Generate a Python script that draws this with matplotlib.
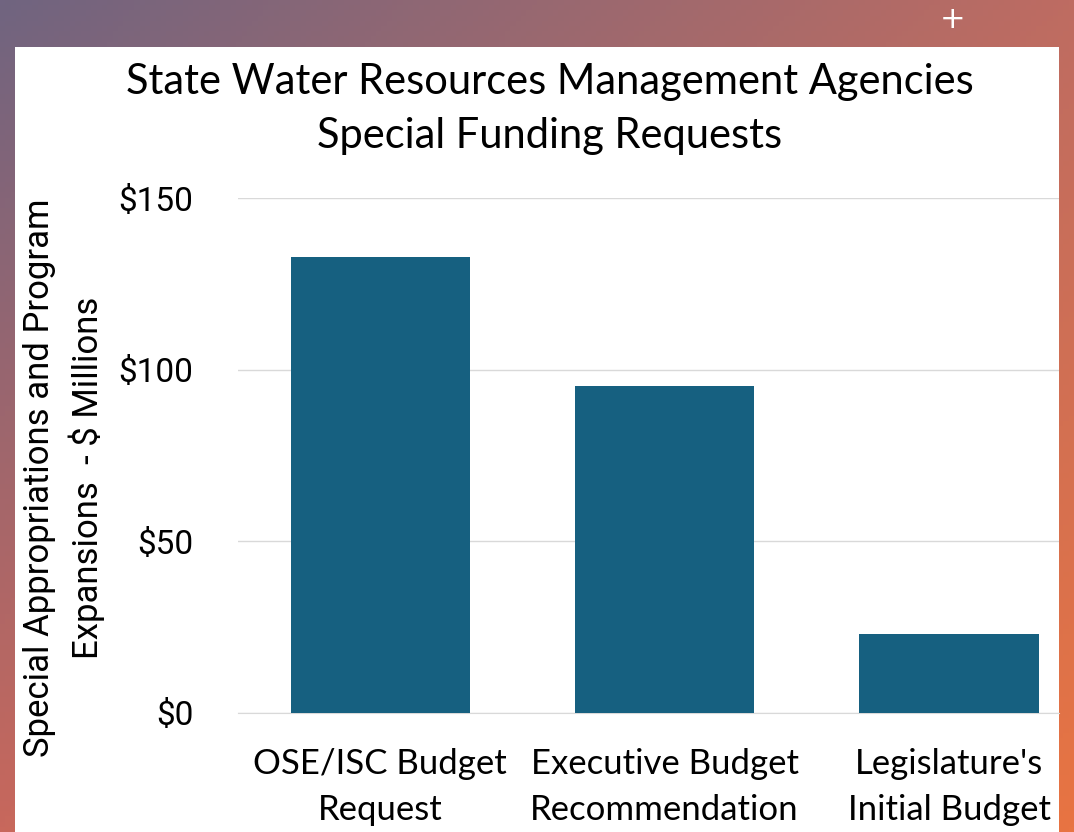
import numpy as np
import matplotlib
import matplotlib.pyplot as plt
from matplotlib.patches import Rectangle

matplotlib.use("Agg")

# data
categories = ["OSE/ISC Budget\nRequest", "Executive Budget\nRecommendation", "Legislature's\nInitial Budget"]
amounts = [132.8, 95.2, 23.0]
yticks = [0, 50, 100, 150]
ytick_labels = ["$0", "$50", "$100", "$150"]

W, H = 1074, 832
fig = plt.figure(figsize=(W / 100, H / 100), dpi=100)

# gradient backdrop (purple-grey top left -> orange bottom right)
bg = fig.add_axes([0, 0, 1, 1])
bg.set_axis_off()
tl = np.array([112, 100, 128]) / 255
tr = np.array([190, 108, 98]) / 255
bl = np.array([200, 104, 92]) / 255
br = np.array([232, 116, 66]) / 255
u = np.linspace(0, 1, 200)[None, :, None]
v = np.linspace(0, 1, 160)[:, None, None]
grad = (1 - v) * ((1 - u) * tl + u * tr) + v * ((1 - u) * bl + u * br)
bg.imshow(grad, extent=[0, 1, 0, 1], aspect="auto", origin="upper")
bg.set_xlim(0, 1)
bg.set_ylim(0, 1)
bg.add_patch(Rectangle((15 / W, 0), (1059 - 15) / W, (H - 47) / H,
                       facecolor="white", edgecolor="none"))
bg.text(953 / W, 1 - 20 / H, "+", color="white", fontsize=22,
        ha="center", va="center", family="DejaVu Sans")

# main chart
x = np.arange(len(categories))
ax = fig.add_axes([238 / W, 1 - 713 / H, (1059 - 238) / W, 515 / H])
ax.patch.set_alpha(0)
ax.bar(x, amounts, width=0.63, color="#166080", zorder=3)
ax.set_xlim(-0.5, (1059 - 380) / 284.5)
ax.set_ylim(0, 150)
ax.set_yticks(yticks)
ax.set_yticklabels(ytick_labels, family="Roboto", fontsize=24)
ax.set_xticks(x)
ax.set_xticklabels(categories, family="Lato", fontsize=25, linespacing=1.55)
ax.tick_params(length=0)
ax.tick_params(axis="y", pad=32)
ax.tick_params(axis="x", pad=25)
ax.grid(axis="y", color="#d9d9d9", linewidth=1, zorder=0)
for s in ["top", "right", "left"]:
    ax.spines[s].set_visible(False)
ax.spines["bottom"].set_color("#d9d9d9")

fig.text(550 / W, 1 - 109 / H, "State Water Resources Management Agencies\nSpecial Funding Requests",
         ha="center", va="center", fontsize=30, family="Lato", linespacing=1.5)
fig.text(64 / W, 1 - 478 / H, "Special Appropriations and Program\nExpansions  - $ Millions",
         ha="center", va="center", rotation=90, fontsize=25, family="Roboto", linespacing=1.4)

fig.savefig("out.png", dpi=100)
